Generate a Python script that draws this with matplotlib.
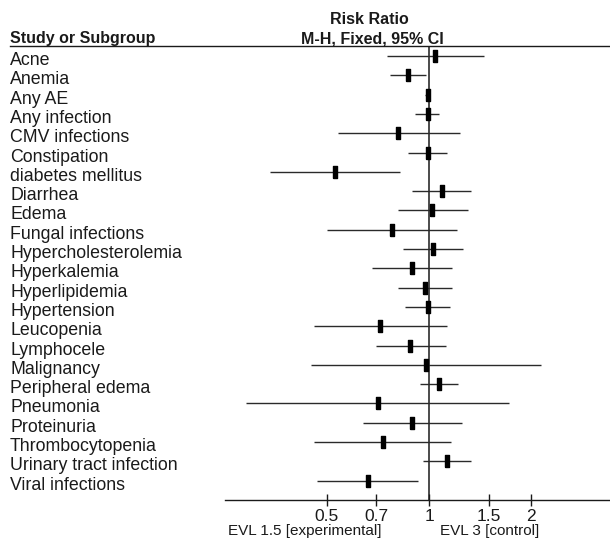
import numpy as np
import matplotlib
matplotlib.use("Agg")
import matplotlib.pyplot as plt
import matplotlib.transforms as mtransforms
from matplotlib.lines import Line2D

plt.rcParams['font.family'] = ['Liberation Sans', 'DejaVu Sans']

# ── Data (risk ratio, 95% CI) ────────────────────────────────────────────────
OUTCOMES = ["Acne", "Anemia", "Any AE", "Any infection", "CMV infections",
            "Constipation", "diabetes mellitus", "Diarrhea", "Edema",
            "Fungal infections", "Hypercholesterolemia", "Hyperkalemia",
            "Hyperlipidemia", "Hypertension", "Leucopenia", "Lymphocele",
            "Malignancy", "Peripheral edema", "Pneumonia", "Proteinuria",
            "Thrombocytopenia", "Urinary tract infection", "Viral infections"]
RR    = [1.04, 0.87, 0.99, 0.99, 0.81, 0.99, 0.53, 1.09, 1.02, 0.78, 1.03, 0.89,
         0.97, 0.99, 0.72, 0.88, 0.98, 1.07, 0.71, 0.89, 0.73, 1.13, 0.66]
LOWER = [0.75, 0.77, 0.97, 0.91, 0.54, 0.87, 0.34, 0.89, 0.81, 0.50, 0.84, 0.68,
         0.81, 0.85, 0.46, 0.70, 0.45, 0.94, 0.29, 0.64, 0.46, 0.96, 0.47]
UPPER = [1.45, 0.98, 1.00, 1.07, 1.23, 1.13, 0.82, 1.33, 1.30, 1.21, 1.26, 1.17,
         1.17, 1.15, 1.13, 1.12, 2.14, 1.22, 1.72, 1.25, 1.16, 1.33, 0.93]
TICKS = [0.5, 0.7, 1, 1.5, 2]
TICK_LABELS = ["0.5", "0.7", "1", "1.5", "2"]

W, H = 610, 539
TXT = '#1a1a1a'

def fx(px):
    return px / W

def fy(py):
    return 1 - py / H

fig = plt.figure(figsize=(W / 100, H / 100), dpi=100)
fig.patch.set_facecolor('white')

ax = fig.add_axes([fx(225), fy(500), fx(610) - fx(225), fy(46) - fy(500)])
ax.set_xscale('log')
ax.set_xlim(0.2513, 3.405)
n = len(OUTCOMES)
ax.set_ylim(23.0, -0.52)

y = np.arange(n)
ax.hlines(y, LOWER, UPPER, color='#2a2a2a', linewidth=1.0, zorder=2)
rect = [(-0.2, -0.5), (0.2, -0.5), (0.2, 0.5), (-0.2, 0.5), (-0.2, -0.5)]
ax.plot(RR, y, linestyle='none', marker=rect, markersize=8,
        color='black', zorder=3)
ax.axvline(1, color=TXT, linewidth=1.1, zorder=1)

for s in ('top', 'left', 'right'):
    ax.spines[s].set_visible(False)
ax.spines['bottom'].set_color(TXT)
ax.spines['bottom'].set_linewidth(1.0)
ax.set_yticks([])
ax.set_xticks(TICKS)
ax.set_xticklabels(TICK_LABELS)
ax.minorticks_off()
ax.tick_params(axis='x', direction='inout', length=8, width=1.0, pad=2.8,
               colors=TXT, labelsize=12.5)

# row labels (baseline ~9 px below each CI line)
trans = mtransforms.blended_transform_factory(fig.transFigure, ax.transData)
off = mtransforms.ScaledTranslation(0, -9 / 100, fig.dpi_scale_trans)
for i, name in enumerate(OUTCOMES):
    ax.text(fx(10), i, name, transform=trans + off, ha='left', va='baseline',
            fontsize=12.8, color=TXT)

# header
fig.text(fx(10), fy(43), "Study or Subgroup", ha='left', va='baseline',
         fontsize=11.5, fontweight='bold', color=TXT)
fig.text(fx(369), fy(24), "Risk Ratio", ha='center', va='baseline',
         fontsize=11.5, fontweight='bold', color=TXT)
fig.text(fx(372), fy(43), "M-H, Fixed, 95% CI", ha='center', va='baseline',
         fontsize=11.5, fontweight='bold', color=TXT)
fig.add_artist(Line2D([fx(10), 1.0], [fy(46), fy(46)], transform=fig.transFigure,
                      color=TXT, linewidth=1.0))

# favours labels
fig.text(fx(382), fy(535), "EVL 1.5 [experimental]", ha='right', va='baseline',
         fontsize=11, color=TXT)
fig.text(fx(440), fy(535), "EVL 3 [control]", ha='left', va='baseline',
         fontsize=11, color=TXT)

fig.savefig("out.png", dpi=100)
